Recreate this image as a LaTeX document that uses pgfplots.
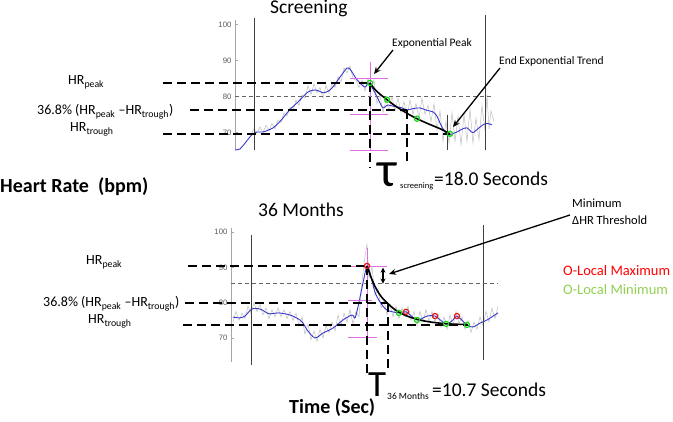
\documentclass[border=0pt]{standalone}
\usepackage{fontspec}
\setmainfont{Carlito}
\newfontfamily\arialfont{Liberation Sans}
\usepackage{pgfplots}
\pgfplotsset{compat=1.18}
\usetikzlibrary{arrows.meta}

\definecolor{trace}{RGB}{55,55,205}
\definecolor{raw}{RGB}{190,190,190}
\definecolor{mag}{RGB}{225,110,225}
\definecolor{ptgreen}{RGB}{20,220,20}
\definecolor{ptred}{RGB}{225,20,20}
\definecolor{leggreen}{RGB}{146,208,80}

\tikzset{
  hrdash/.style={black, line width=2pt, dash pattern=on 9pt off 5pt},
  thin dash/.style={gray!80!black, line width=0.6pt, dash pattern=on 4pt off 3pt},
  marker/.style={black!75, line width=0.7pt},
  callout/.style={black, line width=1.3pt, -{Stealth[length=7pt,width=6pt]}},
}
\pgfplotsset{
  hrpanel/.style={scale only axis, clip=false, anchor=south west,
    axis x line=none, axis y line*=left,
    y axis line style={gray!70, line width=0.6pt},
    ytick={70,80,90,100}, tick align=inside, major tick length=3pt,
    ytick style={gray!70, line width=0.5pt},
    yticklabel style={font=\arialfont\fontsize{7.8}{9}\selectfont, text=gray!70!black},
    /pgf/number format/assume math mode=true},
  rawtrace/.style={raw, line width=0.5pt, no marks},
  smoothtrace/.style={trace, line width=0.9pt, no marks},
  fitcurve/.style={black, line width=1.6pt, no marks, smooth},
  minpts/.style={only marks, mark=o, mark size=2.6pt, ptgreen, line width=1.2pt},
  maxpts/.style={only marks, mark=o, mark size=2.6pt, ptred, line width=1.2pt},
}

\begin{document}
\begin{tikzpicture}[x=1pt, y=1pt]
\path[use as bounding box] (0,0) rectangle (673,421);

% ---------------- Screening ----------------
\begin{axis}[hrpanel, at={(235pt,271pt)}, width=260pt, height=130pt,
  xmin=0, xmax=130, ymin=65.1, ymax=101.25]
  \addplot[rawtrace] coordinates {
    (8,69.5) (9.5,71.0) (11,69.8) (12.5,71.5) (14,70.0) (15.5,72.0) (17,70.5)
    (18.5,72.5) (20,71.0) (21.5,73.5) (23,72.8) (24.5,75.5) (26,74.5) (27.5,77.0)
    (29,76.0) (30.5,79.0) (32,77.5) (33.5,80.5) (35,79.5) (36.5,83.0) (38,80.5)
    (39.5,83.5) (41,81.0) (42.5,82.5) (44,79.5) (45.5,83.0) (47,81.0) (48.5,83.5)
    (50,82.5) (51.5,85.5) (53,84.0) (54.5,88.0) (56,86.5) (57.5,88.5) (59,85.0)
    (60.5,84.5) (62,82.5) (63.5,84.5) (65,81.5) (66.5,85.0) (68,82.0) (69.5,84.5)
    (71,78.0) (72.5,80.5) (74,75.5) (75.5,79.0) (77,76.0) (78.5,80.0) (80,76.0)
    (81.5,79.5) (83,75.5) (84.5,78.5) (86,74.5) (87.5,79.0) (89,75.0) (90.5,78.0)
    (92,74.0) (93.5,79.5) (95,75.0) (96.5,77.5) (98,73.0) (99.5,78.0) (101,70.5)
    (102.5,76.0) (104,67.5) (105.5,73.0) (107,67.0) (108.5,75.5) (110,67.5)
    (111.5,74.5) (113,66.5) (114.5,75.0) (116,67.5) (117.5,76.5) (119,67.0)
    (120.5,74.0) (122,68.0) (123.5,77.5) (125,70.5) (126,80.5) (127,71.0)
    (128,76.0) (129.5,73.0)
  };
  \addplot[smoothtrace, smooth] coordinates {
    (0,65.1) (2.5,65.4) (5,67.0) (7.5,68.75) (9.5,69.8) (11,70.1) (14,70.1)
    (16.5,70.6) (19,71.25) (22.5,73.0) (26,75.4) (28.5,76.9) (31,78.2)
    (33.5,79.6) (36,81.0) (38,81.6) (40,81.8) (42,81.5) (44,81.0) (46,81.3)
    (47.5,81.8) (49.5,83.0) (51.5,84.6) (54,86.5) (56,87.9) (57.5,87.6)
    (58.5,86.8) (60.5,85.0) (62.5,83.75) (65,82.6) (67,83.75) (69,82.0)
    (71,79.9) (72.5,78.2) (74,76.8) (75.5,77.3) (76.5,77.6) (79,77.3) (81,77.1)
    (83.5,76.8) (86,76.25) (89,76.6) (92.5,76.8) (96,76.1) (99,75.7) (101,74.5)
    (102.5,72.6) (104,71.0) (105,70.1) (107.5,69.3) (109,69.7) (111,70.1)
    (113.5,70.9) (116,71.25) (118,70.2) (119,69.9) (121,70.8) (124,72.1)
    (126,72.5) (128.5,72.1)
  };
  % window markers and threshold
  \draw[marker] (9.5,101.8) -- (9.5,65.1);
  \draw[marker] (125,102.6) -- (125,65.1);
  \draw[marker] (106,74.9) -- (106,65.1);
  \draw[thin dash] (0,80) -- (129,80);
  % crosshair at the peak
  \draw[mag, line width=0.8pt] (67.5,89.6) -- (67.5,65.1);
  \draw[mag, line width=0.8pt] (57.5,84.9) -- (76.5,84.9);
  \draw[mag, line width=0.8pt] (57.5,74.9) -- (76.5,74.9);
  \draw[mag, line width=0.8pt] (57.5,65.1) -- (76.5,65.1);
  % HR peak, 36.8 %, trough and tau
  \draw[hrdash] (-36,83.75) -- (67.5,83.75);
  \draw[hrdash] (-22.5,76.25) -- (86,76.25);
  \draw[hrdash] (-36,69.6) -- (107.5,69.6);
  \draw[hrdash] (67.5,83.75) -- (67.5,60.1);
  \draw[hrdash] (86,76.25) -- (86,61.5);
  \addplot[fitcurve] coordinates {
    (67.5,83.75) (70,81.9) (73,80.4) (76,79.1) (80,77.4) (86,75.3) (91,73.8)
    (97,72.3) (103,70.9) (107.5,69.6)
  };
  \addplot[minpts] coordinates {(67.5,83.75) (76,79.1) (91,73.8) (107.5,69.6)};
\end{axis}

% ---------------- 36 Months ----------------
\begin{axis}[hrpanel, at={(231pt,59pt)}, width=269pt, height=134pt,
  xmin=0, xmax=134.5, ymin=63.2, ymax=101.13]
  \addplot[rawtrace] coordinates {
    (1,74.5) (2.5,77.5) (4,75.0) (5.5,77.0) (7,75.5) (8.5,79.0) (10,77.0)
    (11.5,80.0) (13,77.5) (14.5,79.5) (16,76.5) (17.5,78.5) (19,75.5) (20.5,78.0)
    (22,76.0) (23.5,78.5) (25,76.0) (26.5,78.0) (28,75.5) (29.5,77.5) (31,75.0)
    (32.5,77.0) (34,73.5) (35.5,76.0) (37,71.0) (38.5,74.0) (40,69.5) (41.5,72.0)
    (43,69.0) (44.5,72.5) (46,70.0) (47.5,73.5) (49,71.5) (50.5,74.5) (52,72.0)
    (53.5,76.5) (55,73.5) (56.5,77.0) (58,74.5) (59.5,78.0) (61,74.0) (62.5,77.5)
    (64,76.0) (65.5,86.0) (67,93.0) (68,96.5) (69,87.0) (70.5,90.0) (72,82.0)
    (73.5,84.0) (75,78.5) (76.5,80.5) (78,76.5) (79.5,79.5) (81,76.0) (82.5,79.0)
    (84,75.5) (85.5,78.5) (87,76.0) (88.5,79.0) (90,75.0) (91.5,77.5) (93,73.5)
    (94.5,77.5) (96,74.5) (97.5,78.0) (99,74.5) (100.5,77.5) (102,74.5)
    (103.5,77.0) (105,73.0) (106.5,76.0) (108,72.5) (109.5,76.5) (111,73.5)
    (112.5,77.5) (114,74.0) (115.5,76.0) (117,72.5) (118.5,75.0) (120,71.5)
    (121.5,74.5) (123,72.5) (124.5,76.0) (126,73.5) (127.5,77.5) (129,74.5)
    (130.5,78.5) (132,75.5) (133.5,79.0)
  };
  \addplot[smoothtrace, smooth] coordinates {
    (1,75.9) (4.5,75.7) (7,76.2) (10.5,78.2) (14.5,78.2) (17,77.4) (19.5,76.8)
    (23.5,77.1) (29.5,76.5) (34.5,75.1) (36.5,73.8) (38,72.3) (42,70.0)
    (46,71.4) (51,72.8) (56,75.1) (60.5,76.5) (62,75.7) (63.5,78.8) (66,85.6)
    (68,90.4) (69.5,88.4) (72,83.0) (74.5,80.2) (78,77.9) (84,77.1) (87.5,77.4)
    (93,75.1) (98,76.2) (102,76.2) (107.5,74.0) (111,75.1) (113,76.2)
    (118,73.7) (121,73.1) (124.5,74.2) (128,75.1) (133.5,77.1)
  };
  \draw[marker] (10,99.2) -- (10,62.4);
  \draw[marker] (126,102) -- (126,63.8);
  \draw[thin dash] (0,85.6) -- (133.5,85.6);
  \draw[mag, line width=0.8pt] (68,95.5) -- (68,70.3);
  \draw[mag, line width=0.8pt] (58.5,90.4) -- (78,90.4);
  \draw[mag, line width=0.8pt] (58.5,80.5) -- (70.5,80.5);
  \draw[mag, line width=0.8pt] (58.5,70.3) -- (73,70.3);
  \draw[hrdash] (-21.5,90.4) -- (68,90.4);
  \draw[hrdash] (-23,79.9) -- (78.5,79.9);
  \draw[hrdash] (-24,73.7) -- (118.5,73.7);
  \draw[hrdash] (68,90.4) -- (68,59.5);
  \draw[hrdash] (78.5,79.9) -- (78.5,60.4);
  \draw[black, line width=1.3pt, {Stealth[length=5pt,width=5pt]}-{Stealth[length=5pt,width=5pt]}]
    (76,89.9) -- (76,85.4);
  \addplot[fitcurve] coordinates {
    (68,90.4) (70,87.2) (72,84.6) (74,82.6) (76,81.1) (78.7,79.6) (82,78.0)
    (86,76.7) (90,75.8) (95,75.0) (100,74.5) (106,74.1) (112,73.9) (118,73.8)
  };
  \addplot[maxpts] coordinates {(68,90.4) (87.5,77.4) (102,76.2) (113,76.2)};
  \addplot[minpts] coordinates {(84,77.1) (93,75.1) (107.5,74.0) (118,73.7)};
\end{axis}

% ---------------- annotations ----------------
\tikzset{every node/.style={inner sep=0pt, anchor=base west}}
\node at (270,407) {\fontsize{19.5}{22}\selectfont Screening};
\node at (258,204) {\fontsize{19.5}{22}\selectfont 36 Months};

\node at (392,374) {\fontsize{11.5}{13}\selectfont Exponential Peak};
\draw[callout] (393,371) -- (374,347);
\node at (499,356) {\fontsize{11.5}{13}\selectfont End Exponential Trend};
\draw[callout] (500,353) -- (453,294);

\node at (572,213) {\fontsize{12.5}{14}\selectfont Minimum};
\node at (572,196) {\fontsize{12.5}{14}\selectfont ΔHR Threshold};
\draw[callout] (570,206) -- (389,147);
\node[text=red] at (563,145) {\fontsize{14.5}{16}\selectfont O-Local Maximum};
\node[text=leggreen] at (563,126) {\fontsize{14.5}{16}\selectfont O-Local Minimum};

\node at (68,336) {\fontsize{14}{16}\selectfont HR\textsubscript{peak}};
\node at (37,306) {\fontsize{14}{16}\selectfont 36.8\% (HR\textsubscript{peak} –HR\textsubscript{trough})};
\node at (70,289) {\fontsize{14}{16}\selectfont HR\textsubscript{trough}};
\node at (86,156) {\fontsize{14}{16}\selectfont HR\textsubscript{peak}};
\node at (43,114) {\fontsize{14}{16}\selectfont 36.8\% (HR\textsubscript{peak} –HR\textsubscript{trough})};
\node at (88,97) {\fontsize{14}{16}\selectfont HR\textsubscript{trough}};

\node at (0,228) {\fontsize{20}{22}\selectfont\bfseries Heart Rate\ \ (bpm)};
\node at (289,8) {\fontsize{20}{22}\selectfont\bfseries Time (Sec)};

\node at (377,234) {\fontsize{50}{52}\selectfont τ};
\node at (400,232) {\fontsize{8.5}{10}\selectfont screening};
\node at (434,235) {\fontsize{19.5}{22}\selectfont =18.0 Seconds};
\node at (368,24) {\fontsize{37}{40}\selectfont T};
\node at (387,21) {\fontsize{9.5}{11}\selectfont 36 Months};
\node at (432,24) {\fontsize{19.5}{22}\selectfont =10.7 Seconds};
\end{tikzpicture}
\end{document}
